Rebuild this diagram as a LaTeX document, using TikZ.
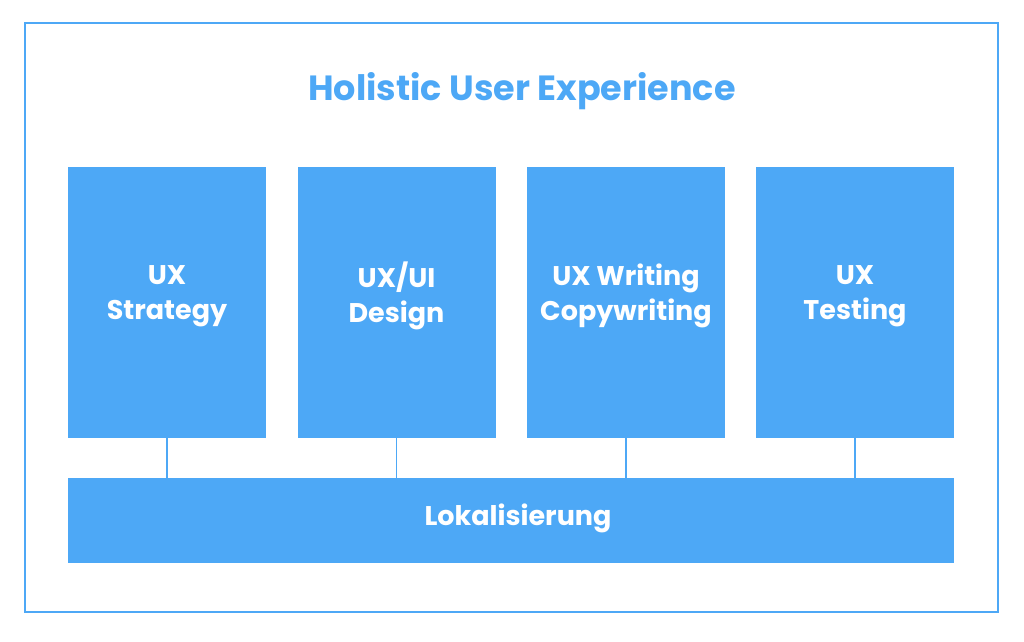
\documentclass[tikz,border=0pt]{standalone}
\usepackage{fontspec}
\setmainfont{Poppins}
\definecolor{uxblue}{HTML}{4DA8F6}
\begin{document}
\begin{tikzpicture}[x=1pt,y=-1pt,
  box/.style={fill=uxblue,draw=none,text=white,font=\fontsize{27}{35}\selectfont\bfseries,align=center,inner sep=0pt},
  link/.style={draw=uxblue,line width=1.5pt}]
\useasboundingbox (0,0) rectangle (1024,641);
\draw[uxblue,line width=2pt] (25,23) rectangle (998,612);
\node[text=uxblue,font=\fontsize{35}{40}\selectfont\bfseries] (title) at (522,91) {Holistic User Experience};
\foreach \n/\x/\t in {a/167/{UX\\Strategy},b/396.5/{UX/UI\\Design},c/626/{UX Writing\\Copywriting},d/855/{UX\\Testing}}{
  \node[box,minimum width=198pt,minimum height=271pt] (\n) at (\x,302.5) {};
  \node[box,fill=none] (\n t) at (\x,296) {\t};
}
\node[box,minimum width=886pt,minimum height=85pt] (l) at (511,520.5) {};
\node[box,fill=none] (lt) at (518,518) {Lokalisierung};
\foreach \n in {a,b,c,d} \draw[link] (\n.south) -- (\n.south |- l.north);
\end{tikzpicture}
\end{document}
